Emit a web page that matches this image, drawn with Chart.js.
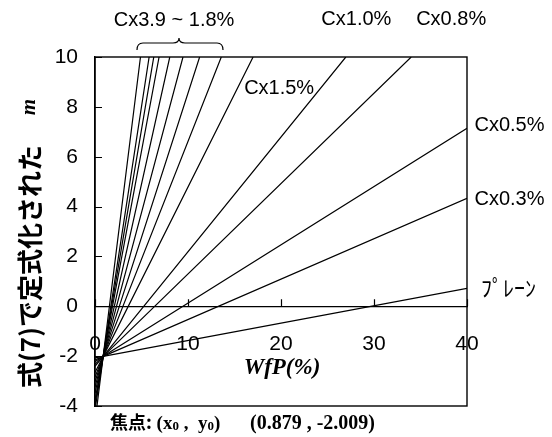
<!DOCTYPE html>
<html>
<head>
<meta charset="utf-8">
<script src="https://cdn.jsdelivr.net/npm/chart.js@4/dist/chart.umd.min.js"></script>
<style>
html,body{margin:0;padding:0;background:#fff;}
#wrap{width:552px;height:437px;position:relative;}
</style>
</head>
<body>
<div id="wrap"><canvas id="chart"></canvas></div>
<script>
// focus point shared by all lines
const focusX = 0.879;
const focusY = -2.009;
// one entry per line, steepest first
const lineNames = ['Cx3.9%','Cx3.9~1.8% (2)','Cx3.9~1.8% (3)','Cx3.9~1.8% (4)','Cx3.9~1.8% (5)','Cx3.9~1.8% (6)','Cx3.9~1.8% (7)','Cx1.8%','Cx1.5%','Cx1.0%','Cx0.8%','Cx0.5%','Cx0.3%','ﾌﾟﾚｰﾝ'];
const startY = [-4.64,-4.15,-3.95,-3.76,-3.48,-3.24,-3.03,-2.84,-2.66,-2.41,-2.33,-2.22,-2.15,-2.07]; // value at WfP = 0
const endX = [4.89,5.82,6.32,6.89,8.04,9.46,11.25,13.58,17.0,26.97,34.0,40,40,40];
const endY = [10,10,10,10,10,10,10,10,10,10,10,7.14,4.33,0.72];
const xTicks = [0,10,20,30,40];
const yTicks = [-4,-2,0,2,4,6,8,10];
// annotation texts and where they sit (data units)
const noteTexts = ['Cx3.9 ~ 1.8%','Cx1.0%','Cx0.8%','Cx1.5%','Cx0.5%','Cx0.3%','ﾌﾟﾚｰﾝ'];
const noteX = [8.5,28.1,38.3,19.8,40.8,40.8,41.5];
const noteY = [11.45,11.5,11.5,8.75,7.27,4.3,0.76];
const noteAlign = ['center','center','center','center','left','left','left'];

const datasets = lineNames.map((name,i)=>({
  label: name,
  data: [{x:0,y:startY[i]},{x:focusX,y:focusY},{x:endX[i],y:endY[i]}],
  borderColor:'#000', borderWidth:1.2, pointRadius:0, fill:false, tension:0
}));

const sans = '"Liberation Sans", Arial, sans-serif';
const serif = '"Liberation Serif", "Times New Roman", serif';
const jp = '"Noto Sans CJK JP", sans-serif';

const decor = {
  id:'decor',
  afterDraw(chart){
    const {ctx, chartArea:a, scales:{x, y}} = chart;
    ctx.save();
    ctx.strokeStyle = '#000'; ctx.fillStyle = '#000';
    ctx.lineWidth = 1.4;
    ctx.strokeRect(a.left, a.top, a.right - a.left, a.bottom - a.top);
    ctx.lineWidth = 1.2;
    // inward tick marks
    ctx.beginPath();
    yTicks.forEach(v=>{const py = Math.round(y.getPixelForValue(v))+0.5; ctx.moveTo(a.left, py); ctx.lineTo(a.left+7, py);});
    const zero = y.getPixelForValue(0);
    xTicks.forEach(v=>{const px = Math.round(x.getPixelForValue(v))+0.5; ctx.moveTo(px, zero); ctx.lineTo(px, zero-7);});
    ctx.stroke();
    // notes
    ctx.textBaseline = 'middle';
    noteTexts.forEach((t,i)=>{
      ctx.font = (t==='ﾌﾟﾚｰﾝ' ? '22px ' + jp : '20px ' + sans);
      ctx.textAlign = noteAlign[i];
      ctx.fillText(t, x.getPixelForValue(noteX[i]), y.getPixelForValue(noteY[i]));
    });
    // brace under the group label
    ctx.lineWidth = 1.2;
    ctx.beginPath();
    ctx.moveTo(137,50); ctx.quadraticCurveTo(137,43,143,43); ctx.lineTo(173,43);
    ctx.quadraticCurveTo(179,43,179,38); ctx.quadraticCurveTo(179,43,185,43);
    ctx.lineTo(217,43); ctx.quadraticCurveTo(223,43,223,50);
    ctx.stroke();
    // x title
    ctx.textAlign = 'center';
    ctx.font = 'italic bold 23px ' + serif;
    ctx.fillText('WfP(%)', 282, 368);
    // y title
    ctx.save();
    ctx.translate(30, 388); ctx.rotate(-Math.PI/2);
    ctx.textAlign = 'left';
    ctx.font = 'bold 26px ' + jp;
    ctx.fillText('式(7)で定式化された', 0, 0);
    ctx.textAlign = 'center';
    ctx.font = 'italic bold 21px ' + serif;
    ctx.fillText('m', 281, 0);
    ctx.restore();
    // focus caption
    ctx.textAlign = 'left'; ctx.textBaseline = 'alphabetic';
    const parts = [
      {t:'焦点', f:'bold 18px ' + jp, dy:0},
      {t:':', f:'bold 18px ' + jp, dy:0},
      {t:' (x', f:'bold 19px ' + serif, dy:0},
      {t:'0', f:'bold 13px ' + serif, dy:1},
      {t:' ,  y', f:'bold 19px ' + serif, dy:0},
      {t:'0', f:'bold 13px ' + serif, dy:1},
      {t:')', f:'bold 19px ' + serif, dy:0}
    ];
    let cx = 110;
    parts.forEach(p=>{ctx.font = p.f; ctx.fillText(p.t, cx, 429 + p.dy); cx += ctx.measureText(p.t).width;});
    ctx.font = 'bold 20px ' + serif;
    ctx.fillText('(0.879 , -2.009)', 250, 429);
    ctx.restore();
  }
};

new Chart(document.getElementById('chart'), {
  type:'line',
  data:{datasets},
  options:{
    responsive:true, maintainAspectRatio:false, animation:false,
    layout:{padding:{top:57, right:85, bottom:31, left:0}},
    plugins:{legend:{display:false}, tooltip:{enabled:false}},
    scales:{
      x:{type:'linear', min:0, max:40, position:{y:0},
        afterBuildTicks:s=>{s.ticks = xTicks.map(v=>({value:v}));},
        grid:{display:true, drawOnChartArea:false, drawTicks:false},
        border:{display:true, color:'#000', width:1.2},
        ticks:{color:'#000', padding:25, font:{family:sans, size:21}, maxRotation:0}},
      y:{type:'linear', min:-4, max:10,
        afterBuildTicks:s=>{s.ticks = yTicks.map(v=>({value:v}));},
        afterFit:s=>{s.width = 95;},
        grid:{display:true, drawOnChartArea:false, drawTicks:false},
        border:{display:true, color:'#000', width:1.4},
        ticks:{color:'#000', padding:17, font:{family:sans, size:21}}}
    }
  },
  plugins:[decor]
});
</script>
</body>
</html>
